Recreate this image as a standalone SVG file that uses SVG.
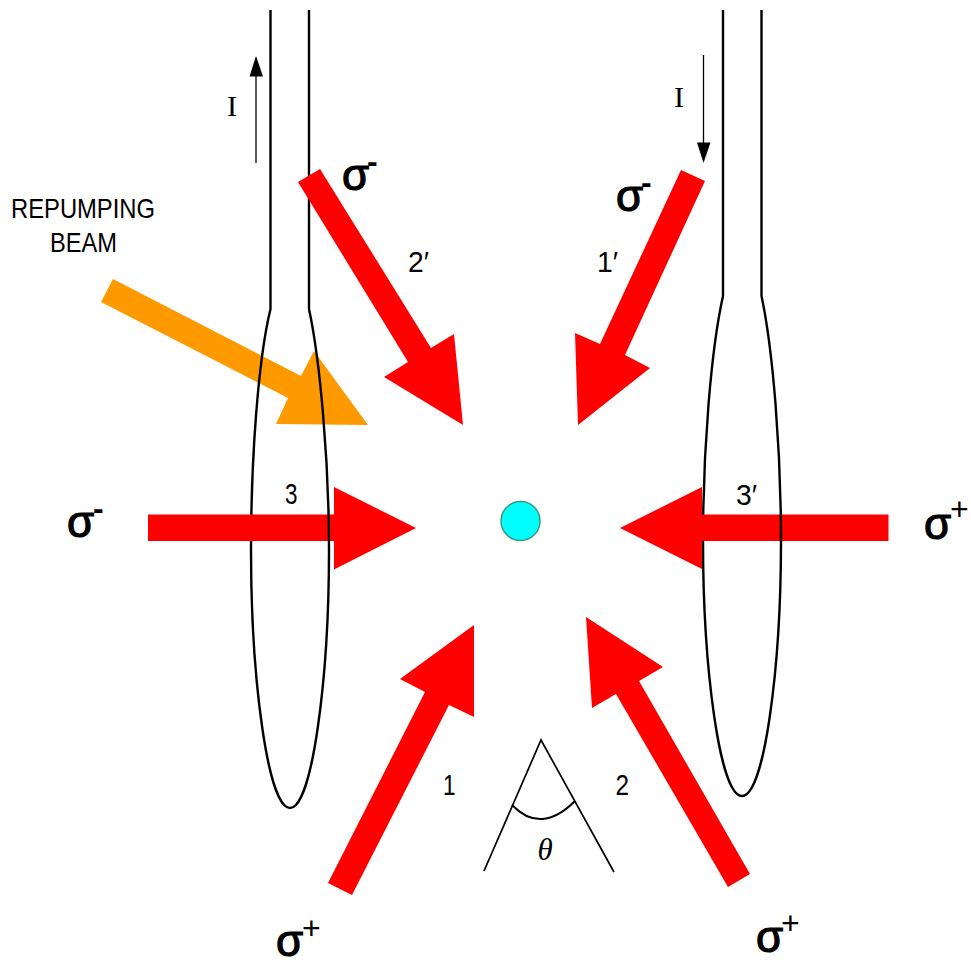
<svg xmlns="http://www.w3.org/2000/svg" width="971" height="961" viewBox="0 0 971 961">
<style>
.red{fill:#ff0000}
.orange{fill:#ff9900}
.wire{fill:none;stroke:#000;stroke-width:2.4}
.thin{fill:none;stroke:#000;stroke-width:1.3}
.head{fill:#000}
.sig{font-family:"Liberation Sans",sans-serif;font-size:44px;fill:#000}
.ring{stroke:#000;stroke-width:1.2}
.minus{font-size:32px;font-weight:bold;stroke:none}
.plus{font-size:32px;stroke:none}
.lab{font-family:"Liberation Sans",sans-serif;font-size:28px;fill:#000}
.num{font-family:"Liberation Sans",sans-serif;font-size:30px;fill:#000}
.cur{font-family:"Liberation Serif",serif;font-size:30px;fill:#000;text-anchor:middle}
</style>
<rect width="971" height="961" fill="#fff"/>
<g id="beam-repump"><polygon class="orange" points="113,279 101,302 288,398 276,424 368,425 314,351 301,376"/></g>
<g id="coil-back">
<path class="wire" d="M270.5 10V309C258 360 251 460 251 550C251 680 268 808 290 808"/>
<path class="wire" d="M723 10V296C711 350 703 450 703 540C703 670 720 796 742 796"/>
<path class="wire" d="M309 10V309"/>
</g>
<g id="beams">
<polygon id="beam-2p" class="red" points="298,182 320,169 431,348 454,334 463,425 384,377 408,362"/>
<polygon id="beam-1p" class="red" points="681,170 705,181 625,355 650,368 578,425 575,333 600,344"/>
<polygon id="beam-3" class="red" points="148,514.5 334,514.5 334,487 416,528 334,569.5 334,541 148,541"/>
<polygon id="beam-3p" class="red" points="888.5,514.5 702,514.5 702,487 620,528 702,569 702,541 888.5,541"/>
<polygon id="beam-1" class="red" points="328,883 352,895 449,705 474,717 474,625 400,679 425,692"/>
<polygon id="beam-2" class="red" points="750,874 728,887 616,694 592,708 586,617 663,667 639,681"/>
</g>
<g id="coil-front">
<path class="wire" d="M309 309C320 360 329 460 329 550C329 680 312 808 290 808"/>
<path class="wire" d="M761.5 10V296C773 350 781 450 781 540C781 670 764 796 742 796"/>
</g>
<g id="current-arrows">
<path class="thin" d="M256 163V75"/><polygon class="head" points="256,56 249.500,76.500 263,76.500"/>
<path class="thin" d="M703.500 55V143"/><polygon class="head" points="703.500,163 697,142.500 710.500,142.500"/>
</g>
<g id="atom"><circle cx="520.500" cy="521" r="19.500" fill="#00ffff" stroke="#3a9a78" stroke-width="1.500"/></g>
<g id="angle">
<path class="thin" style="stroke-width:1.700" d="M484 871L541 740L614 872"/>
<path class="thin" style="stroke-width:2" d="M512 805Q541 835 575 801"/>
<text x="545" y="860" font-family="Liberation Serif, serif" font-style="italic" font-size="31" text-anchor="middle">θ</text>
</g>
<g id="labels">
<text class="cur" x="232" y="116">I</text>
<text class="cur" x="679" y="107">I</text>
<text class="lab" x="11" y="218" textLength="144" lengthAdjust="spacingAndGlyphs">REPUMPING</text>
<text class="lab" x="50" y="252" textLength="67" lengthAdjust="spacingAndGlyphs">BEAM</text>
<text class="num" x="408" y="272" textLength="21" lengthAdjust="spacingAndGlyphs">2′</text>
<text class="num" x="597" y="272" textLength="21" lengthAdjust="spacingAndGlyphs">1′</text>
<text class="num" x="285" y="504" textLength="12.500" lengthAdjust="spacingAndGlyphs">3</text>
<text class="num" x="736" y="505" textLength="21" lengthAdjust="spacingAndGlyphs">3′</text>
<text class="num" x="443" y="795" textLength="12.500" lengthAdjust="spacingAndGlyphs">1</text>
<text class="num" x="615.500" y="795" textLength="13.500" lengthAdjust="spacingAndGlyphs">2</text>
</g>
<g id="polarization">
<text class="sig" x="342" y="190"><tspan class="ring">σ</tspan><tspan class="minus" x="367" y="172">-</tspan></text>
<text class="sig" x="616" y="211"><tspan class="ring">σ</tspan><tspan class="minus" x="641" y="193">-</tspan></text>
<text class="sig" x="67" y="537"><tspan class="ring">σ</tspan><tspan class="minus" x="93" y="519">-</tspan></text>
<text class="sig" x="924" y="539"><tspan class="ring">σ</tspan><tspan class="plus" x="950" y="520">+</tspan></text>
<text class="sig" x="276" y="956"><tspan class="ring">σ</tspan><tspan class="plus" x="302" y="939">+</tspan></text>
<text class="sig" x="756" y="952"><tspan class="ring">σ</tspan><tspan class="plus" x="781" y="934">+</tspan></text>
</g>
</svg>
